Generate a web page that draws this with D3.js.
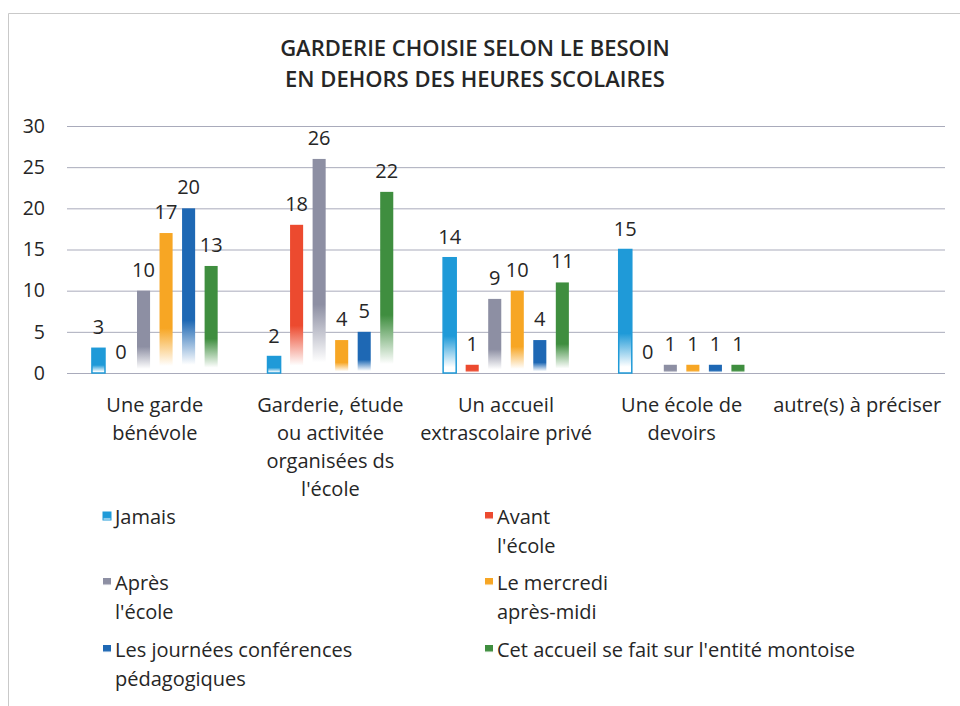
<!DOCTYPE html>
<html>
<head>
<meta charset="utf-8">
<script src="https://cdn.jsdelivr.net/npm/d3@7"></script>
<style>
  html, body { margin: 0; padding: 0; background: #fff; }
  svg text { font-family: "Open Sans", Lato, sans-serif; fill: #262626; }
</style>
</head>
<body>
<svg id="chart" width="960" height="706"></svg>
<script>
// Survey answers: childcare used outside school hours, by type of care
const titleLines = ["GARDERIE CHOISIE SELON LE BESOIN", "EN DEHORS DES HEURES SCOLAIRES"];

const categories = [
  "Une garde\nbénévole",
  "Garderie, étude\nou activitée\norganisées ds\nl'école",
  "Un accueil\nextrascolaire privé",
  "Une école de\ndevoirs",
  "autre(s) à préciser"
];

const seriesNames = [
  "Jamais",
  "Avant\nl'école",
  "Après\nl'école",
  "Le mercredi\naprès-midi",
  "Les journées conférences\npédagogiques",
  "Cet accueil se fait sur l'entité montoise"
];

const seriesColors = ["#1f9ad8", "#ec4a2f", "#8d8fa3", "#f7a624", "#1e68b4", "#3f8e3f"];

// one array per series, one value per category (null = no answer shown)
const jamais    = [3, 2, 14, 15, null];
const avant     = [0, 18, 1, 0, null];
const apres     = [10, 26, 9, 1, null];
const mercredi  = [17, 4, 10, 1, null];
const journees  = [20, 5, 4, 1, null];
const entite    = [13, 22, 11, 1, null];
const seriesValues = [jamais, avant, apres, mercredi, journees, entite];

const yTicks = [0, 5, 10, 15, 20, 25, 30];

const svg = d3.select("#chart");

// outer frame of the chart area
svg.append("path")
  .attr("d", "M8.5,706 L8.5,13.5 L960,13.5")
  .attr("fill", "none")
  .attr("stroke", "#c9c9c9")
  .attr("stroke-width", 1);

// title
svg.append("g").selectAll("text")
  .data(titleLines)
  .join("text")
  .attr("x", 475)
  .attr("y", (d, i) => 56 + i * 31)
  .attr("text-anchor", "middle")
  .attr("font-size", 22)
  .attr("font-weight", 600)
  .text(d => d);

const plot = { left: 67, right: 945, top: 126, bottom: 373 };

const x0 = d3.scaleBand()
  .domain(d3.range(categories.length))
  .range([plot.left, plot.right])
  .paddingInner(0.23)
  .paddingOuter(0.115);

const x1 = d3.scaleBand()
  .domain(d3.range(seriesNames.length))
  .range([0, x0.bandwidth()])
  .paddingInner(0.42)
  .paddingOuter(0.21);

const y = d3.scaleLinear().domain([0, 30]).range([plot.bottom, plot.top]);

// gradient fill per series: solid at the top, fading to white at the base
const defs = svg.append("defs");
seriesColors.forEach((c, i) => {
  const g = defs.append("linearGradient")
    .attr("id", "grad" + i)
    .attr("x1", 0).attr("y1", 0).attr("x2", 0).attr("y2", 1);
  g.append("stop").attr("offset", "0").attr("stop-color", c);
  g.append("stop").attr("offset", "0.68").attr("stop-color", c);
  g.append("stop").attr("offset", "0.95").attr("stop-color", "#ffffff");
  g.append("stop").attr("offset", "1").attr("stop-color", "#ffffff");
});

// horizontal gridlines
svg.append("g")
  .attr("transform", `translate(${plot.left},0)`)
  .call(d3.axisLeft(y).tickValues(yTicks).tickSize(-(plot.right - plot.left)).tickFormat(""))
  .call(g => g.select(".domain").remove())
  .call(g => g.selectAll(".tick line").attr("stroke", "#a9abbb").attr("stroke-width", 1));

// y axis labels
svg.append("g")
  .attr("transform", "translate(52,0)")
  .call(d3.axisLeft(y).tickValues(yTicks).tickSize(0).tickPadding(7))
  .call(g => g.select(".domain").remove())
  .call(g => g.selectAll("text")
    .attr("font-size", 19.5)
    .attr("font-family", "'Open Sans', sans-serif")
    .attr("fill", "#262626"));

// bars + value labels
const groups = svg.append("g").selectAll("g")
  .data(categories.map((c, ci) => ({ ci, vals: seriesValues.map((s, si) => ({ si, v: s[ci] })) })))
  .join("g")
  .attr("transform", d => `translate(${x0(d.ci)},0)`);

groups.selectAll("rect")
  .data(d => d.vals.filter(e => e.v !== null && e.v > 0))
  .join("rect")
  .attr("x", d => x1(d.si))
  .attr("width", x1.bandwidth())
  .attr("y", d => y(d.v))
  .attr("height", d => y(0) - y(d.v))
  .attr("fill", d => `url(#grad${d.si})`)
  .attr("stroke", d => d.si === 0 ? seriesColors[0] : "none")
  .attr("stroke-width", 1.5);

groups.selectAll("text")
  .data(d => d.vals.filter(e => e.v !== null))
  .join("text")
  .attr("x", d => x1(d.si) + x1.bandwidth() / 2)
  .attr("y", d => y(d.v) - 14)
  .attr("text-anchor", "middle")
  .attr("font-size", 20)
  .text(d => d.v);

// category labels (multi-line)
svg.append("g").selectAll("text")
  .data(categories)
  .join("text")
  .attr("x", (d, i) => x0(i) + x0.bandwidth() / 2)
  .attr("y", 412)
  .attr("text-anchor", "middle")
  .attr("font-size", 20)
  .each(function (d) {
    d3.select(this).selectAll("tspan")
      .data(d.split("\n"))
      .join("tspan")
      .attr("x", d3.select(this).attr("x"))
      .attr("dy", (t, j) => j === 0 ? 0 : 28)
      .text(t => t);
  });

// legend: two columns, three rows
const legendCols = [103, 485];
const legendRows = [524, 590, 657];
const legend = svg.append("g").selectAll("g")
  .data(seriesNames)
  .join("g")
  .attr("transform", (d, i) => `translate(${legendCols[i % 2]},${legendRows[Math.floor(i / 2)]})`);

legend.append("rect")
  .attr("x", 0).attr("y", -12)
  .attr("width", 8).attr("height", 8)
  .attr("fill", (d, i) => `url(#grad${i})`)
  .attr("stroke", (d, i) => i === 0 ? seriesColors[0] : "none");

legend.append("text")
  .attr("x", 12)
  .attr("font-size", 20)
  .each(function (d) {
    d3.select(this).selectAll("tspan")
      .data(d.split("\n"))
      .join("tspan")
      .attr("x", 12)
      .attr("dy", (t, j) => j === 0 ? 0 : 29)
      .text(t => t);
  });
</script>
</body>
</html>
